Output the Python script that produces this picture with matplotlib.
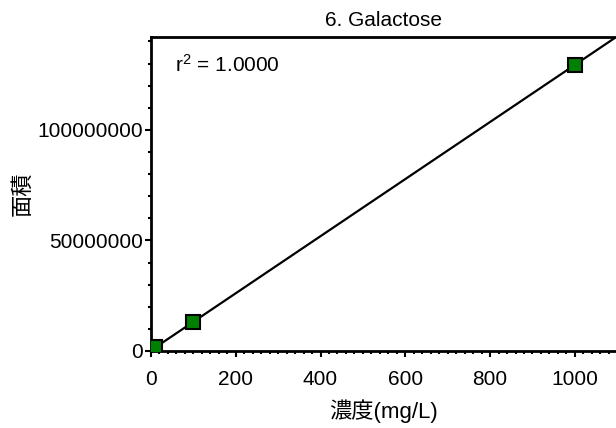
import numpy as np
import matplotlib
matplotlib.use('Agg')
import matplotlib.pyplot as plt
from matplotlib.ticker import MultipleLocator, FuncFormatter

plt.rcParams['font.family'] = ['Liberation Sans', 'Noto Sans CJK JP']

# data
conc = [10, 100, 1000]
area = [1.6e6, 13.1e6, 129.4e6]
title = '6. Galactose'
xlabel = '濃度(mg/L)'
ylabel = '面積'

# least squares line
slope, icpt = np.polyfit(conc, area, 1)
r2 = np.corrcoef(conc, area)[0, 1] ** 2

fig = plt.figure(figsize=(6.16, 4.28), dpi=100)
ax = fig.add_axes([0.245, 0.18, 0.755, 0.7336])

xx = np.array([0, 1200])
ax.plot(xx, slope * xx + icpt, color='black', lw=1.6, zorder=2)
ax.plot(conc, area, 's', ms=10.5, mfc='#008000', mec='black', mew=1.5, zorder=3)

ax.set_xlim(0, 1097)
ax.set_ylim(0, 1.42e8)

ax.xaxis.set_major_locator(MultipleLocator(200))
ax.xaxis.set_minor_locator(MultipleLocator(20))
ax.yaxis.set_major_locator(MultipleLocator(5e7))
ax.yaxis.set_minor_locator(MultipleLocator(1e7))
ax.yaxis.set_major_formatter(FuncFormatter(lambda v, p: '%d' % v))

ax.tick_params(which='major', length=4.5, width=1.5, labelsize=15)
ax.tick_params(axis='x', which='major', pad=9)
ax.tick_params(axis='y', which='major', pad=1.5)
ax.tick_params(which='minor', length=2.5, width=1.5)

for s in ['left', 'bottom', 'top']:
    ax.spines[s].set_linewidth(2)
ax.spines['right'].set_visible(False)

ax.set_title(title, fontsize=15, pad=8)
ax.set_xlabel(xlabel, fontsize=16)
ax.set_ylabel(ylabel, fontsize=16)
ax.xaxis.set_label_coords(0.5, -0.155)
ax.yaxis.set_label_coords(-0.253, 0.5)

ax.text(0.052, 0.911, r'$\mathregular{r^2}$ = %.4f' % r2, transform=ax.transAxes,
        fontsize=15, va='center', ha='left')

fig.savefig('out.png', dpi=100)
